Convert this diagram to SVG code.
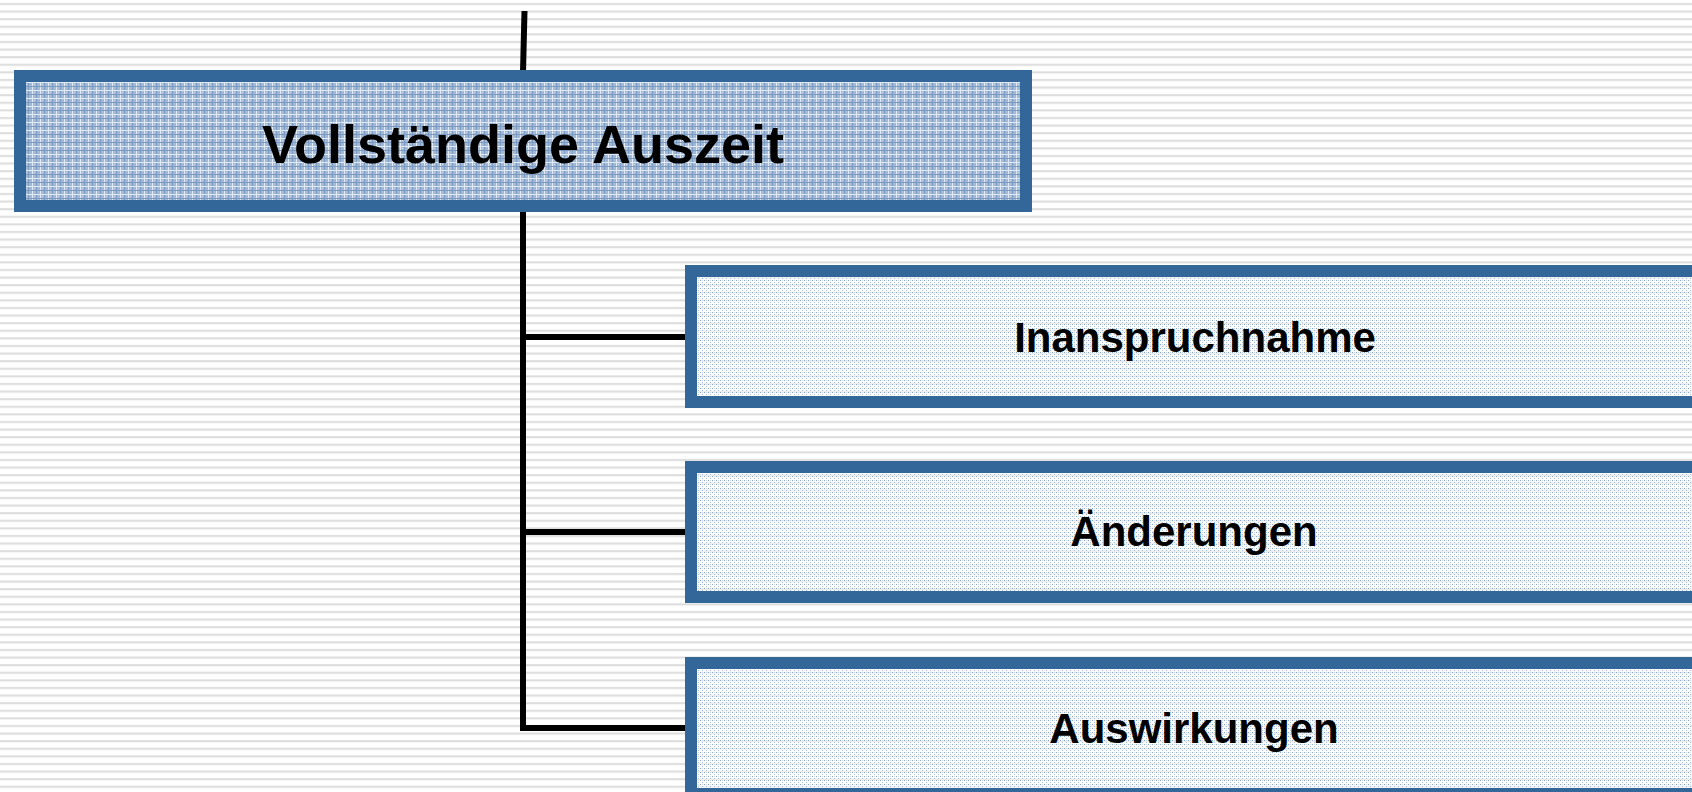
<svg xmlns="http://www.w3.org/2000/svg" width="1692" height="792" viewBox="0 0 1692 792">
  <style>
    .box { stroke: #336699; stroke-width: 12; }
    .main { fill: url(#plaid); }
    .sub { fill: url(#dots); }
    .lbl { font-family: "Liberation Sans", Arial, sans-serif; font-weight: bold; fill: #000; text-anchor: middle; }
    .conn { fill: none; stroke: #000; stroke-width: 6; stroke-linejoin: miter; }
  </style>
  <defs>
    <pattern id="stripes" x="0" y="0" width="16" height="7.6" patternUnits="userSpaceOnUse">
      <rect x="0" y="0" width="16" height="7.6" fill="#ffffff"/>
      <rect x="0" y="3" width="16" height="2" fill="#dcdcdc"/>
    </pattern>
    <pattern id="plaid" x="0" y="0" width="8" height="8" patternUnits="userSpaceOnUse">
      <rect x="0" y="0" width="8" height="8" fill="#a2b9d6"/>
      <rect x="0" y="0" width="1" height="8" fill="#e2eaf4"/>
      <rect x="4" y="0" width="1" height="8" fill="#7d9cc3"/>
      <rect x="0" y="2" width="8" height="1" fill="#e2eaf4"/>
      <rect x="0" y="6" width="8" height="1" fill="#7d9cc3"/>
      <rect x="2" y="4" width="1" height="1" fill="#dfe7f2"/>
    </pattern>
    <pattern id="dots" x="0" y="0" width="4" height="4" patternUnits="userSpaceOnUse">
      <rect x="0" y="0" width="4" height="4" fill="#ffffff" fill-opacity="0.5"/>
      <rect x="0" y="0" width="1" height="1" fill="#87a4cc"/>
      <rect x="2" y="2" width="1" height="1" fill="#a9bfdc"/>
      <rect x="2" y="0" width="1" height="1" fill="#cfdcec"/>
    </pattern>
  </defs>

  <rect x="0" y="0" width="1692" height="792" fill="url(#stripes)"/>

  <g id="connectors">
    <line class="conn" x1="524.5" y1="11" x2="523" y2="72"/>
    <polyline class="conn" points="523,210 523,728 687,728"/>
    <line class="conn" x1="523" y1="337" x2="687" y2="337"/>
    <line class="conn" x1="523" y1="532" x2="687" y2="532"/>
  </g>

  <g id="node-auszeit">
    <rect class="box main" x="20" y="76" width="1006" height="130"/>
    <text class="lbl" x="523" y="163" font-size="54">Vollständige Auszeit</text>
  </g>

  <g id="node-inanspruchnahme">
    <rect class="box sub" x="691" y="271" width="1007" height="131"/>
    <text class="lbl" x="1195" y="352" font-size="42">Inanspruchnahme</text>
  </g>

  <g id="node-aenderungen">
    <rect class="box sub" x="691" y="467" width="1007" height="130"/>
    <text class="lbl" x="1194" y="546" font-size="42">Änderungen</text>
  </g>

  <g id="node-auswirkungen">
    <rect class="box sub" x="691" y="663" width="1007" height="131"/>
    <text class="lbl" x="1194" y="743" font-size="42">Auswirkungen</text>
  </g>
</svg>
